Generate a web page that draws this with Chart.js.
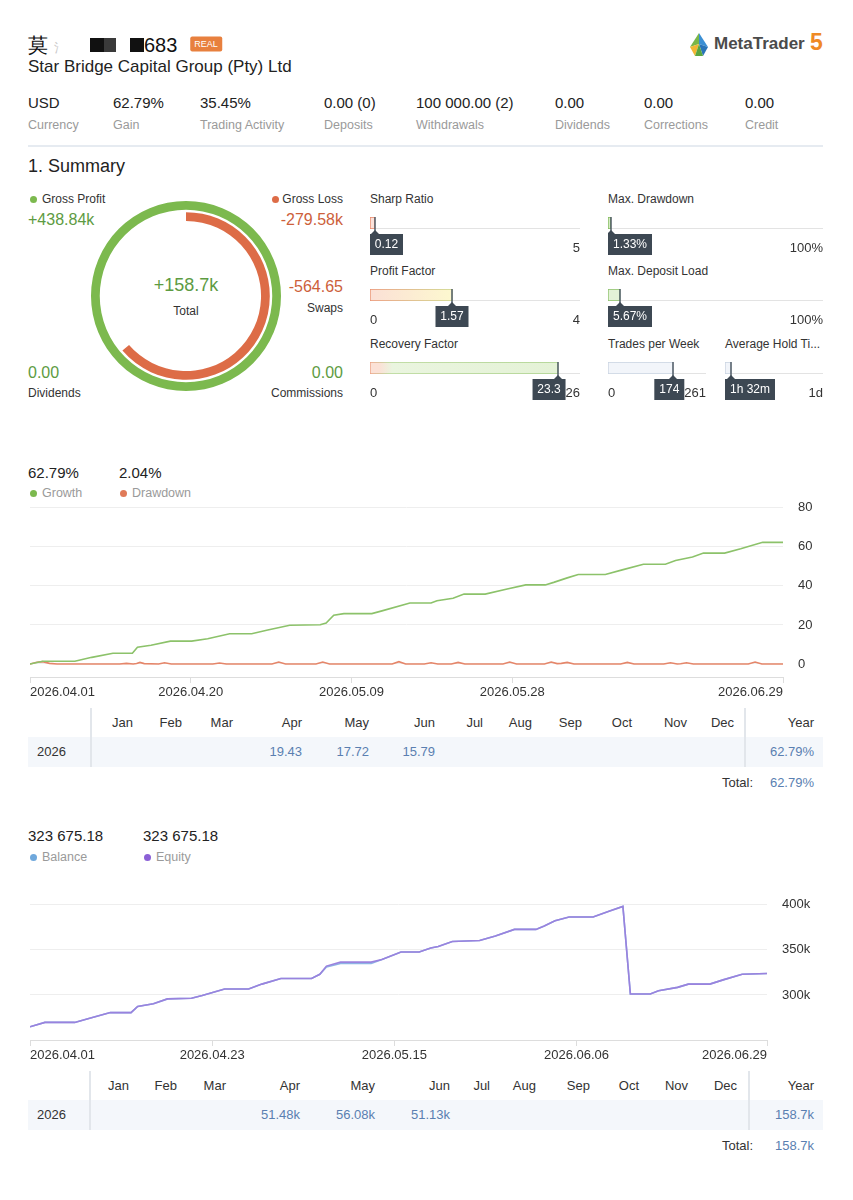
<!DOCTYPE html>
<html>
<head>
<meta charset="utf-8">
<script src="https://cdn.jsdelivr.net/npm/chart.js@4.4.1/dist/chart.umd.min.js"></script>
<style>
  html, body { margin: 0; padding: 0; background: #fff; }
  body { width: 853px; height: 1200px; position: relative; overflow: hidden; font-family: "Liberation Sans", Arial, sans-serif; color: #333; }
  .a { position: absolute; white-space: nowrap; line-height: 1.2; }
  .box { position: absolute; }
  canvas { position: absolute; }
</style>
</head>
<body>
<script>
  // header stats
  var statValues = ['USD', '62.79%', '35.45%', '0.00 (0)', '100 000.00 (2)', '0.00', '0.00', '0.00'];
  var statLabels = ['Currency', 'Gain', 'Trading Activity', 'Deposits', 'Withdrawals', 'Dividends', 'Corrections', 'Credit'];

  // summary donut (k)
  var grossProfit = 438.84;
  var grossLoss = 279.58;
  var swaps = -0.56465;

  // gauges
  var gaugeNames = ['Sharp Ratio', 'Profit Factor', 'Recovery Factor', 'Max. Drawdown', 'Max. Deposit Load', 'Trades per Week', 'Average Hold Ti...'];
  var gaugeValues = [0.12, 1.57, 23.3, 1.33, 5.67, 174, 1.53];
  var gaugeMax = [5, 4, 26, 100, 100, 261, 24];
  var gaugeValueText = ['0.12', '1.57', '23.3', '1.33%', '5.67%', '174', '1h 32m'];
  var gaugeMinText = ['0', '0', '0', '0', '0', '0', '0'];
  var gaugeMaxText = ['5', '4', '26', '100%', '100%', '261', '1d'];

  // growth chart (x = days since 2026.04.01)
  var growthDays = [0, 1.5, 5.3, 7.3, 9.8, 12.1, 12.7, 14.3, 16.6, 19.1, 21, 23.6, 26.2, 28.1, 30.7, 34.3, 35, 35.9, 37.1, 40.4, 41.6, 44.9, 47.4, 48.1, 50, 51.3, 53.8, 56.4, 58.6, 60.9, 61.9, 63.5, 64.8, 68, 70, 72.5, 75.1, 76.3, 78.3, 79.6, 82.1, 84, 86.6, 89];
  var growthValues = [0, 1.4, 1.4, 3.4, 5.5, 5.5, 8.6, 9.6, 11.7, 11.7, 12.9, 15.5, 15.5, 17.4, 19.8, 20.1, 21, 25, 25.8, 25.8, 27.2, 31.2, 31.2, 32.4, 33.7, 35.8, 35.8, 38.4, 40.5, 40.5, 41.8, 44.1, 45.8, 45.8, 48.2, 51.1, 51.1, 53, 54.8, 56.8, 56.8, 59, 62.3, 62.3];
  var ddDays = [0, 0.8, 1.5, 2.3, 3.2, 10.6, 11.4, 12.2, 12.6, 13, 13.5, 15.2, 15.9, 16.7, 21.6, 22.4, 23.2, 28.6, 29.4, 30.2, 33.8, 34.6, 35.4, 42.8, 43.6, 44.4, 46.6, 47.4, 48.2, 49.8, 50.6, 51.4, 55.9, 56.7, 57.5, 60.8, 61.6, 62.3, 62.8, 63.5, 64.3, 69.8, 70.6, 71.4, 74.9, 75.7, 76.5, 76.9, 77.6, 78.4, 84.9, 85.7, 86.5, 89];
  var ddValues = [0, 0.9, 1.2, 0.3, 0, 0, 0.3, 0, 0.2, 0.8, 0.2, 0, 0.6, 0, 0, 0.5, 0, 0, 1, 0, 0, 1, 0, 0, 1.2, 0, 0, 0.6, 0, 0, 0.8, 0, 0, 1, 0, 0, 1, 0.2, 0.3, 0.8, 0, 0, 0.8, 0, 0, 0.6, 0, 0.1, 0.6, 0, 0, 1, 0, 0];
  var growthTickDays = [0, 19, 38, 57, 89];
  var growthTickLabels = ['2026.04.01', '2026.04.20', '2026.05.09', '2026.05.28', '2026.06.29'];
  var growthYTicks = [0, 20, 40, 60, 80];

  // balance / equity chart (k)
  var equityDays = [0, 1.8, 5.4, 7.1, 9.7, 12.2, 13, 14.9, 16.6, 19.5, 20.8, 23.5, 26.4, 28, 30.3, 34, 35, 35.8, 37.5, 41.2, 42.5, 44.8, 47, 48.4, 49.3, 51, 54.3, 56.2, 58.5, 61.1, 62.1, 63.4, 65.1, 68, 70, 71.6, 72.5, 74.9, 75.9, 78.2, 79.5, 82.1, 83.7, 86, 89];
  var equityValues = [264.7, 269.5, 269.5, 273.8, 280.4, 280.4, 287.3, 290.2, 295.6, 296.4, 299.3, 306.5, 306.5, 312, 318.2, 318.2, 322.9, 332, 336.4, 336.4, 339.3, 347.6, 347.6, 352, 353.8, 359.3, 360.4, 365.5, 372.7, 372.7, 376.4, 382.2, 386.5, 386.5, 393.1, 398.2, 301.1, 301.1, 304.7, 308.4, 312, 312, 316.7, 322.9, 323.7];
  var balanceValues = [264.7, 269.5, 269.5, 273.8, 280.4, 280.4, 287.3, 290.2, 295.6, 296.4, 299.3, 306.5, 306.5, 312, 318.2, 318.2, 322.9, 331, 334.9, 334.9, 339.3, 347.6, 347.6, 352, 353.8, 359.3, 360.4, 365.5, 372.7, 372.7, 376.4, 382.2, 386.5, 386.5, 393.1, 398.2, 301.1, 301.1, 304.7, 308.4, 312, 312, 316.7, 322.9, 323.7];
  var balanceTickDays = [0, 22, 44, 66, 89];
  var balanceTickLabels = ['2026.04.01', '2026.04.23', '2026.05.15', '2026.06.06', '2026.06.29'];
  var balanceYTicks = [300, 350, 400];

  // monthly tables
  var months = ['Jan', 'Feb', 'Mar', 'Apr', 'May', 'Jun', 'Jul', 'Aug', 'Sep', 'Oct', 'Nov', 'Dec'];
  var growthByMonth = [null, null, null, 19.43, 17.72, 15.79, null, null, null, null, null, null];
  var growthYear = 62.79;
  var profitByMonth = [null, null, null, 51.48, 56.08, 51.13, null, null, null, null, null, null];
  var profitYear = 158.7;

  var GREEN = '#5d9b42';
  var ORANGE = '#cd5f3b';
  var BLUE = '#5a7fb1';
  var FONT = '"Liberation Sans", Arial, sans-serif';

  Chart.defaults.font.family = FONT;
  Chart.defaults.font.size = 13;
  Chart.defaults.color = '#333';

  function put(x, y, text, size, color, align, weight) {
    var el = document.createElement('div');
    el.className = 'a';
    el.textContent = text;
    el.style.left = x + 'px';
    el.style.top = y + 'px';
    el.style.fontSize = size + 'px';
    el.style.color = color || '#333';
    if (weight) el.style.fontWeight = weight;
    var tx = align === 'right' ? '-100%' : (align === 'center' ? '-50%' : '0');
    el.style.transform = 'translate(' + tx + ',-50%)';
    document.body.appendChild(el);
    return el;
  }

  function rect(x, y, w, h, bg, radius) {
    var el = document.createElement('div');
    el.className = 'box';
    el.style.left = x + 'px';
    el.style.top = y + 'px';
    el.style.width = w + 'px';
    el.style.height = h + 'px';
    el.style.background = bg;
    if (radius) el.style.borderRadius = radius + 'px';
    document.body.appendChild(el);
    return el;
  }

  function dot(x, y, color) {
    rect(x - 3.5, y - 3.5, 7, 7, color, 4);
  }

  function canvasAt(x, y, w, h) {
    var cv = document.createElement('canvas');
    cv.width = w;
    cv.height = h;
    cv.style.left = x + 'px';
    cv.style.top = y + 'px';
    cv.style.width = w + 'px';
    cv.style.height = h + 'px';
    document.body.appendChild(cv);
    return cv;
  }

  // ---------- header ----------
  put(28, 45, '莫', 20, '#111');
  put(54, 48, '氵', 12, '#c8c8c8');
  rect(90, 38, 14, 14, '#111');
  rect(104, 38, 12, 14, '#3a3a3a');
  rect(130, 38, 14, 14, '#111');
  put(144, 45, '683', 20, '#111');
  var badge = put(206, 44, 'REAL', 9, '#fff', 'center');
  badge.style.background = '#e8803e';
  badge.style.padding = '2px 4px';
  badge.style.borderRadius = '2px';

  var logo = document.createElement('div');
  logo.className = 'box';
  logo.style.left = '687px';
  logo.style.top = '32px';
  logo.innerHTML = '<svg width="24" height="25" viewBox="0 0 24 25">' +
    '<polygon points="12,1 3,15 12,12" fill="#7ab648"/>' +
    '<polygon points="12,1 21,15 12,12" fill="#3b8fd4"/>' +
    '<polygon points="3,15 12,12 8,24" fill="#f2b632"/>' +
    '<polygon points="21,15 12,12 16,24" fill="#2a74b8"/>' +
    '<polygon points="8,24 12,12 16,24" fill="#5aa640"/></svg>';
  document.body.appendChild(logo);
  put(714, 44, 'MetaTrader', 17, '#4b4b4b', 'left', 'bold');
  put(810, 43, '5', 23, '#ef8a25', 'left', 'bold');

  put(28, 67, 'Star Bridge Capital Group (Pty) Ltd', 17, '#222');

  var statX = [28, 113, 200, 324, 416, 555, 644, 745];
  statValues.forEach(function (v, i) {
    put(statX[i], 103, v, 15, '#222');
    put(statX[i], 125, statLabels[i], 12.5, '#9a9a9a');
  });
  rect(28, 145, 795, 2, '#e6ebf1');

  put(28, 167, '1. Summary', 18, '#222');

  // ---------- summary donut ----------
  dot(33, 199, '#7cb94e');
  put(42, 199, 'Gross Profit', 12, '#333');
  put(28, 220, '+' + grossProfit.toFixed(2) + 'k', 16, GREEN);
  dot(275, 199, '#dd6c47');
  put(343, 199, 'Gross Loss', 12, '#333', 'right');
  put(343, 220, '-' + grossLoss.toFixed(2) + 'k', 16, ORANGE, 'right');
  put(186, 286, '+' + (grossProfit - grossLoss + swaps).toFixed(1) + 'k', 18, GREEN, 'center');
  put(186, 311, 'Total', 12, '#333', 'center');
  put(343, 287, (swaps * 1000).toFixed(2), 16, ORANGE, 'right');
  put(343, 308, 'Swaps', 12, '#333', 'right');
  put(28, 373, '0.00', 16, GREEN);
  put(28, 393, 'Dividends', 12, '#333');
  put(343, 373, '0.00', 16, GREEN, 'right');
  put(343, 393, 'Commissions', 12, '#333', 'right');

  new Chart(canvasAt(91, 201, 190, 190), {
    type: 'doughnut',
    data: {
      datasets: [
        { data: [grossProfit], backgroundColor: ['#7cb94e'], borderWidth: 0, weight: 9 },
        { data: [1], backgroundColor: ['rgba(0,0,0,0)'], borderWidth: 0, weight: 2.5 },
        { data: [grossLoss, grossProfit - grossLoss], backgroundColor: ['#dd6c47', 'rgba(0,0,0,0)'], borderWidth: 0, weight: 9 }
      ]
    },
    options: {
      responsive: false, animation: false, events: [], devicePixelRatio: 1,
      cutout: '79%',
      plugins: { legend: { display: false }, tooltip: { enabled: false } }
    }
  });

  // ---------- gauges ----------
  var gaugeSlots = [[370, 215, 210], [370, 287, 210], [370, 360, 210], [608, 215, 215], [608, 287, 215], [608, 360, 98], [725, 360, 98]];
  var gaugeFill = [
    [[0, '#fbe2da'], [1, '#fbe2da']],
    [[0, '#fbe0d6'], [1, '#fdf8cf']],
    [[0, '#fbe1d6'], [0.05, '#fbe1d6'], [0.12, '#eaf5df'], [1, '#e4f2d6']],
    [[0, '#d5ebc3'], [1, '#d5ebc3']],
    [[0, '#e3f2d7'], [1, '#e3f2d7']],
    [[0, '#f2f5fa'], [1, '#f2f5fa']],
    [[0, '#f2f5fa'], [1, '#f2f5fa']]
  ];
  var gaugeStroke = [
    [[0, '#e8886a'], [1, '#e8886a']],
    [[0, '#e9916f'], [1, '#c9d487']],
    [[0, '#eea084'], [0.1, '#b5d694'], [1, '#a8cf88']],
    [[0, '#82bb5d'], [1, '#82bb5d']],
    [[0, '#8cc16a'], [1, '#8cc16a']],
    [[0, '#c9d3e1'], [1, '#c9d3e1']],
    [[0, '#c9d3e1'], [1, '#c9d3e1']]
  ];

  function barGradient(chart, stops, endValue) {
    var area = chart.chartArea;
    if (!area) return stops[0][1];
    var x0 = chart.scales.x.getPixelForValue(0);
    var x1 = chart.scales.x.getPixelForValue(endValue);
    var g = chart.ctx.createLinearGradient(x0, 0, Math.max(x1, x0 + 1), 0);
    stops.forEach(function (s) { g.addColorStop(s[0], s[1]); });
    return g;
  }

  var gaugeDecor = {
    id: 'gaugeDecor',
    beforeDatasetsDraw: function (chart) {
      var ctx = chart.ctx;
      var area = chart.chartArea;
      ctx.save();
      ctx.strokeStyle = '#e3e3e3';
      ctx.lineWidth = 1;
      ctx.beginPath();
      ctx.moveTo(0, area.bottom - 0.5);
      ctx.lineTo(chart.width, area.bottom - 0.5);
      ctx.stroke();
      ctx.restore();
    },
    afterDatasetsDraw: function (chart, args, opts) {
      var ctx = chart.ctx;
      var area = chart.chartArea;
      var px = Math.round(chart.scales.x.getPixelForValue(chart.data.datasets[0].data[0]));
      ctx.save();
      ctx.font = '13px ' + FONT;
      ctx.fillStyle = '#333';
      ctx.textBaseline = 'middle';
      ctx.textAlign = 'left';
      ctx.fillText(opts.minText, 0, 33);
      ctx.textAlign = 'right';
      ctx.fillText(opts.maxText, chart.width, 33);
      var maxW = ctx.measureText(opts.maxText).width;

      ctx.strokeStyle = '#4f5b66';
      ctx.lineWidth = 1.5;
      ctx.beginPath();
      ctx.moveTo(px, area.top);
      ctx.lineTo(px, 19);
      ctx.stroke();

      ctx.font = '12px ' + FONT;
      var bw = Math.round(ctx.measureText(opts.text).width + 10);
      var bx = Math.min(px - bw / 2, chart.width - maxW - bw);
      bx = Math.max(0, bx);
      ctx.fillStyle = '#3d4853';
      ctx.fillRect(bx, 19, bw, 21);
      ctx.beginPath();
      ctx.moveTo(px - 4, 19);
      ctx.lineTo(px + 4, 19);
      ctx.lineTo(px, 15);
      ctx.closePath();
      ctx.fill();
      ctx.fillStyle = '#fff';
      ctx.textAlign = 'center';
      ctx.fillText(opts.text, bx + bw / 2, 30);
      ctx.restore();
    }
  };

  gaugeNames.forEach(function (name, i) {
    var slot = gaugeSlots[i];
    put(slot[0], slot[1] - 16, name, 12, '#333');
    var value = gaugeValues[i];
    new Chart(canvasAt(slot[0], slot[1], slot[2], 44), {
      type: 'bar',
      data: {
        labels: [''],
        datasets: [{
          data: [value],
          backgroundColor: function (c) { return barGradient(c.chart, gaugeFill[i], value); },
          borderColor: function (c) { return barGradient(c.chart, gaugeStroke[i], value); },
          borderWidth: 1,
          borderSkipped: false,
          barPercentage: 1,
          categoryPercentage: 1
        }]
      },
      options: {
        indexAxis: 'y',
        responsive: false, animation: false, events: [], devicePixelRatio: 1,
        layout: { padding: { top: 2, bottom: 30, left: 0, right: 0 } },
        scales: {
          x: { display: false, min: 0, max: gaugeMax[i] },
          y: { display: false }
        },
        plugins: {
          legend: { display: false },
          tooltip: { enabled: false },
          gaugeDecor: { text: gaugeValueText[i], minText: gaugeMinText[i], maxText: gaugeMaxText[i] }
        }
      },
      plugins: [gaugeDecor]
    });
  });

  // ---------- line charts ----------
  function points(xs, ys) {
    return xs.map(function (x, i) { return { x: x, y: ys[i] }; });
  }

  function lineChart(canvas, datasets, cfg) {
    return new Chart(canvas, {
      type: 'line',
      data: { datasets: datasets },
      options: {
        responsive: false, animation: false, events: [], devicePixelRatio: 1,
        layout: { padding: { top: 8, left: 0, right: 0, bottom: 0 } },
        elements: { point: { radius: 0 }, line: { tension: 0, borderWidth: 1.6 } },
        plugins: { legend: { display: false }, tooltip: { enabled: false } },
        scales: {
          x: {
            type: 'linear', min: cfg.xTicks[0], max: cfg.xTicks[cfg.xTicks.length - 1],
            afterBuildTicks: function (s) { s.ticks = cfg.xTicks.map(function (v) { return { value: v }; }); },
            afterFit: function (s) { s.height = 26; },
            ticks: {
              align: 'inner', autoSkip: false, maxRotation: 0, padding: 2, color: '#333', font: { size: 13 },
              callback: function (v) { var k = cfg.xTicks.indexOf(v); return k >= 0 ? cfg.xLabels[k] : ''; }
            },
            grid: { drawOnChartArea: false, drawTicks: true, tickLength: 6, color: '#dddddd' },
            border: { display: true, color: '#dddddd' }
          },
          y: {
            position: 'right', min: cfg.yMin, max: cfg.yMax,
            afterBuildTicks: function (s) { s.ticks = cfg.yTicks.map(function (v) { return { value: v }; }); },
            afterFit: function (s) { s.width = cfg.yWidth; },
            ticks: { padding: cfg.yPad, color: '#333', font: { size: 13 }, callback: cfg.yFormat },
            grid: { color: '#eeeeee', drawTicks: false },
            border: { display: false }
          }
        }
      }
    });
  }

  // growth section
  put(28, 473, '62.79%', 15, '#222');
  put(119, 473, '2.04%', 15, '#222');
  dot(33, 493, '#7cb94e');
  put(42, 493, 'Growth', 12.5, '#9a9a9a');
  dot(123, 493, '#e07a58');
  put(132, 493, 'Drawdown', 12.5, '#9a9a9a');

  lineChart(canvasAt(28, 485, 795, 218), [
    { data: points(growthDays, growthValues), borderColor: '#8cc26a' },
    { data: points(ddDays, ddValues), borderColor: '#e5866a' }
  ], {
    xTicks: growthTickDays, xLabels: growthTickLabels,
    yMin: -6.67, yMax: 80, yTicks: growthYTicks, yWidth: 40, yPad: 15,
    yFormat: function (v) { return String(v); }
  });

  // balance section
  put(28, 836, '323 675.18', 15, '#222');
  put(143, 836, '323 675.18', 15, '#222');
  dot(33, 857, '#6fa8dc');
  put(42, 857, 'Balance', 12.5, '#9a9a9a');
  dot(147, 857, '#8b60d6');
  put(156, 857, 'Equity', 12.5, '#9a9a9a');

  lineChart(canvasAt(28, 882, 795, 184), [
    { data: points(equityDays, equityValues), borderColor: '#9a82de' },
    { data: points(equityDays, balanceValues), borderColor: '#8db4e4' }
  ], {
    xTicks: balanceTickDays, xLabels: balanceTickLabels,
    yMin: 250, yMax: 400, yTicks: balanceYTicks, yWidth: 56, yPad: 15,
    yFormat: function (v) { return v + 'k'; }
  });

  // ---------- monthly tables ----------
  function monthTable(top, rights, sepX, byMonth, yearVal, fmt, totalRight) {
    var headY = top, rowY = top + 29, totY = top + 60;
    rect(28, rowY - 15, 795, 30, '#f4f7fb');
    rect(sepX[0], top - 15, 1.5, 59, '#e2e6eb');
    rect(sepX[1], top - 15, 1.5, 59, '#e2e6eb');
    months.forEach(function (m, i) {
      put(rights[i], headY, m, 13, '#333', 'right');
      if (byMonth[i] !== null) put(rights[i], rowY, fmt(byMonth[i]), 13, BLUE, 'right');
    });
    put(814, headY, 'Year', 13, '#333', 'right');
    put(37, rowY, '2026', 13, '#333');
    put(814, rowY, fmt(yearVal, true), 13, BLUE, 'right');
    put(totalRight, totY, 'Total:', 13, '#333', 'right');
    put(814, totY, fmt(yearVal, true), 13, BLUE, 'right');
  }

  monthTable(723, [133, 182, 233, 302, 369, 435, 483, 532, 582, 632, 687, 734], [90, 744],
    growthByMonth, growthYear,
    function (v, pct) { return v.toFixed(2) + (pct ? '%' : ''); }, 753);

  monthTable(1086, [129, 177, 226, 300, 375, 450, 490, 536, 590, 639, 688, 737], [89, 748],
    profitByMonth, profitYear,
    function (v, yr) { return (yr ? v.toFixed(1) : v.toFixed(2)) + 'k'; }, 753);
</script>
</body>
</html>
